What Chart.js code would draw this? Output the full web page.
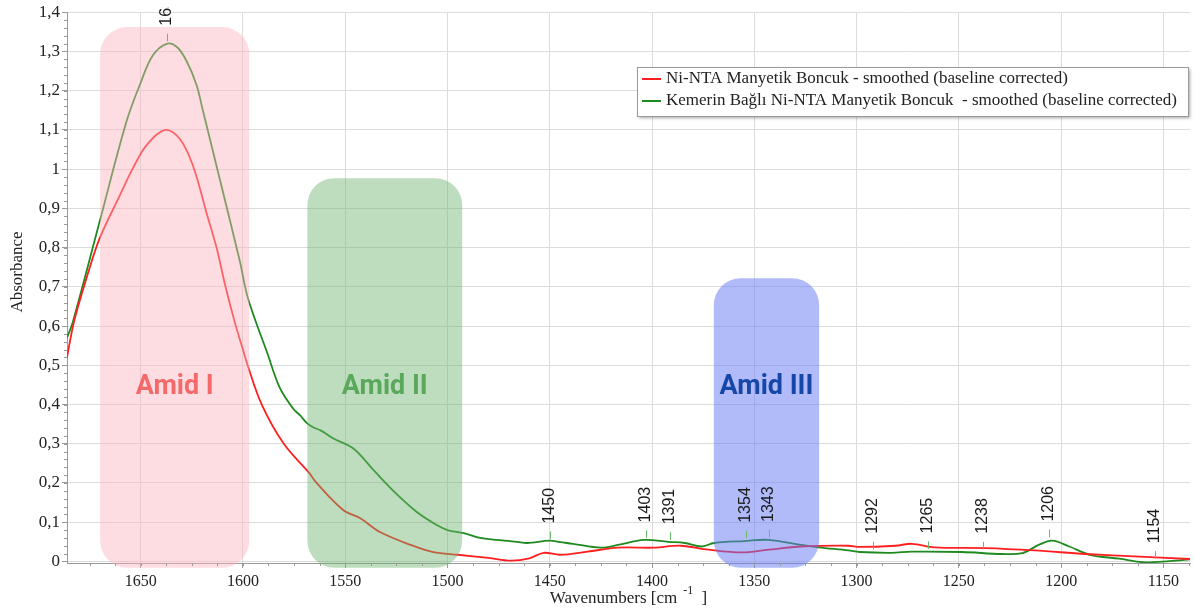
<!DOCTYPE html>
<html lang="tr">
<head>
<meta charset="UTF-8">
<title>FTIR - Amid bantları</title>
<script src="https://cdn.jsdelivr.net/npm/chart.js"></script>
<style>
  body { margin: 0; background: #fff; }
  canvas { display: block; }
</style>
</head>
<body>
<canvas id="myChart" width="1194" height="613"></canvas>
<script>
// spectra (wavenumber cm-1 / absorbance)
const seriesNames = [
    'Ni-NTA Manyetik Boncuk - smoothed (baseline corrected)',
    'Kemerin Bağlı Ni-NTA Manyetik Boncuk  - smoothed (baseline corrected)'
];

const redWaves = [1686, 1682.5, 1676, 1670, 1660, 1654, 1647, 1638, 1631, 1624.5, 1617.6, 1612.9, 1608.5, 1604, 1600,
    1597.7, 1590.8, 1580, 1567.5, 1564, 1551, 1542.6, 1533, 1518, 1507, 1495, 1480, 1469, 1460, 1453, 1445,
    1431.5, 1416.7, 1399, 1386, 1372.5, 1356, 1343, 1327, 1304, 1298.5, 1281, 1273, 1262, 1237, 1213, 1188,
    1161.6, 1136];
const redVals = [0.52, 0.613, 0.73, 0.824, 0.935, 1.0, 1.062, 1.10, 1.078, 1.01, 0.885, 0.8, 0.7, 0.61, 0.54,
    0.5, 0.4, 0.3, 0.225, 0.2, 0.131, 0.11, 0.075, 0.042, 0.024, 0.017, 0.009, 0.002, 0.008, 0.022, 0.017,
    0.025, 0.035, 0.035, 0.04, 0.03, 0.023, 0.03, 0.038, 0.04, 0.037, 0.04, 0.045, 0.036, 0.034, 0.028, 0.019,
    0.012, 0.006];

const greenWaves = [1686, 1683, 1670, 1657, 1650, 1644, 1637, 1632, 1627.5, 1622.7, 1619.6, 1611, 1601.5, 1597.5,
    1588, 1582, 1575.5, 1572, 1568.6, 1565.7, 1562, 1556, 1546, 1536, 1526.5, 1515, 1505, 1500, 1492, 1484,
    1480, 1466, 1461, 1450, 1445, 1438.6, 1425, 1416.7, 1404, 1392, 1384, 1376, 1369.6, 1355, 1343, 1327,
    1318.6, 1304, 1298.5, 1283, 1273, 1248.5, 1229, 1219, 1211, 1204.4, 1196, 1186, 1171.6, 1160, 1147, 1136];
const greenVals = [0.57, 0.613, 0.867, 1.12, 1.22, 1.29, 1.32, 1.31, 1.275, 1.215, 1.15, 0.968, 0.765, 0.67,
    0.53, 0.443, 0.39, 0.372, 0.352, 0.342, 0.334, 0.314, 0.288, 0.232, 0.18, 0.126, 0.092, 0.08, 0.072, 0.06,
    0.057, 0.05, 0.047, 0.053, 0.049, 0.045, 0.035, 0.042, 0.055, 0.05, 0.047, 0.038, 0.047, 0.052, 0.055, 0.042,
    0.036, 0.028, 0.024, 0.022, 0.025, 0.024, 0.019, 0.021, 0.042, 0.053, 0.038, 0.017, 0.007, -0.002, 0.001, 0.006];

const xTicks = [1650, 1600, 1550, 1500, 1450, 1400, 1350, 1300, 1250, 1200, 1150];
const yTicks = [0, 0.1, 0.2, 0.3, 0.4, 0.5, 0.6, 0.7, 0.8, 0.9, 1, 1.1, 1.2, 1.3, 1.4];

// peak picks (label, and absorbance where the little marker starts)
const peakWaves = [1637, 1450, 1403, 1391, 1354, 1343, 1292, 1265, 1238, 1206, 1154];
const peakTops = [1.326, 0.057, 0.060, 0.055, 0.059, 0.061, 0.031, 0.032, 0.031, 0.062, 0.007];

// highlighted bands
const bandNames = ['Amid I', 'Amid II', 'Amid III'];
const bandFrom = [1669.8, 1568.5, 1369.8];
const bandTo = [1596.9, 1492.8, 1318.3];
const bandTop = [1.362, 0.977, 0.722];

const bandFill = ['rgba(250,180,188,0.45)', 'rgba(110,180,110,0.45)', 'rgba(100,120,245,0.5)'];
const bandText = ['#f46a6a', '#5aa85a', '#1646a6'];
const lineColors = ['#ff1f1f', '#1f8a1f'];

function toPoints(xs, ys) {
    return xs.map((x, i) => ({ x: x, y: ys[i] }));
}

function roundBox(ctx, x, y, w, h, r) {
    ctx.beginPath();
    ctx.moveTo(x + r, y);
    ctx.lineTo(x + w - r, y);
    ctx.arcTo(x + w, y, x + w, y + r, r);
    ctx.lineTo(x + w, y + h - r);
    ctx.arcTo(x + w, y + h, x + w - r, y + h, r);
    ctx.lineTo(x + r, y + h);
    ctx.arcTo(x, y + h, x, y + h - r, r);
    ctx.lineTo(x, y + r);
    ctx.arcTo(x, y, x + r, y, r);
    ctx.closePath();
}

const extras = {
    id: 'extras',
    beforeDraw(chart) {
        const ctx = chart.ctx;
        ctx.save();
        ctx.fillStyle = '#fff';
        ctx.fillRect(0, 0, chart.width, chart.height);
        ctx.restore();
    },
    afterDatasetsDraw(chart) {
        const ctx = chart.ctx;
        const xs = chart.scales.x, ys = chart.scales.y;
        const bottom = ys.getPixelForValue(-0.016);

        // band boxes on top of the curves
        bandNames.forEach((name, i) => {
            const x1 = xs.getPixelForValue(bandFrom[i]);
            const x2 = xs.getPixelForValue(bandTo[i]);
            const top = ys.getPixelForValue(bandTop[i]);
            ctx.save();
            ctx.fillStyle = bandFill[i];
            roundBox(ctx, x1, top, x2 - x1, bottom - top, 27);
            ctx.fill();
            ctx.fillStyle = bandText[i];
            ctx.font = 'bold 27px Roboto';
            ctx.textAlign = 'center';
            ctx.textBaseline = 'middle';
            ctx.fillText(name, (x1 + x2) / 2, ys.getPixelForValue(0.444));
            ctx.restore();
        });

        // peak markers
        ctx.save();
        ctx.beginPath();
        ctx.rect(0, 7, chart.width, chart.height);
        ctx.clip();
        peakWaves.forEach((w, i) => {
            const px = Math.round(xs.getPixelForValue(w)) + 0.5;
            const py = ys.getPixelForValue(peakTops[i]);
            ctx.strokeStyle = '#66bb66';
            ctx.lineWidth = 1;
            ctx.beginPath();
            ctx.moveTo(px, py);
            ctx.lineTo(px, py - 7.5);
            ctx.stroke();
            ctx.save();
            ctx.translate(px - 1, py - 15.5);
            ctx.rotate(-Math.PI / 2);
            ctx.fillStyle = '#1a1a1a';
            ctx.font = '16px "Liberation Sans"';
            ctx.textAlign = 'left';
            ctx.textBaseline = 'middle';
            ctx.fillText(String(w), 0, 0);
            ctx.restore();
        });
        ctx.restore();
    },
    afterDraw(chart) {
        const ctx = chart.ctx;
        const xs = chart.scales.x, ys = chart.scales.y;
        const area = chart.chartArea;

        // minor ticks
        ctx.save();
        ctx.strokeStyle = '#9a9a9a';
        ctx.lineWidth = 1;
        for (let v = 0.02; v < 1.4; v += 0.02) {
            const py = Math.round(ys.getPixelForValue(v)) + 0.5;
            ctx.beginPath();
            ctx.moveTo(area.left - 3, py);
            ctx.lineTo(area.left, py);
            ctx.stroke();
        }
        for (let w = 1675; w > 1137; w -= 12.5) {
            const px = Math.round(xs.getPixelForValue(w)) + 0.5;
            ctx.beginPath();
            ctx.moveTo(px, area.bottom);
            ctx.lineTo(px, area.bottom + 3);
            ctx.stroke();
        }
        ctx.restore();

        // axis titles
        ctx.save();
        ctx.fillStyle = '#222';
        ctx.font = '17px "Liberation Serif"';
        ctx.textBaseline = 'alphabetic';
        const main = 'Wavenumbers [cm';
        const mw = ctx.measureText(main).width;
        ctx.font = '12px "Liberation Serif"';
        const sup = '-1';
        const sw = ctx.measureText(sup).width;
        ctx.font = '17px "Liberation Serif"';
        const tail = ' ]';
        const tw = ctx.measureText(tail).width;
        const total = mw + 6 + sw + 4 + tw;
        let tx = (area.left + area.right) / 2 - total / 2;
        const base = 603;
        ctx.textAlign = 'left';
        ctx.fillText(main, tx, base);
        ctx.font = '12px "Liberation Serif"';
        ctx.fillText(sup, tx + mw + 6, base - 9);
        ctx.font = '17px "Liberation Serif"';
        ctx.fillText(tail, tx + mw + 6 + sw + 4, base);

        ctx.translate(18, 272);
        ctx.rotate(-Math.PI / 2);
        ctx.textAlign = 'center';
        ctx.textBaseline = 'middle';
        ctx.font = '17px "Liberation Serif"';
        ctx.fillText('Absorbance', 0, 0);
        ctx.restore();

        // legend box
        ctx.save();
        const lx = 637, ly = 67, lw = 551, lh = 49;
        ctx.shadowColor = 'rgba(0,0,0,0.35)';
        ctx.shadowBlur = 3;
        ctx.shadowOffsetX = 2;
        ctx.shadowOffsetY = 2;
        ctx.fillStyle = '#fff';
        ctx.fillRect(lx, ly, lw, lh);
        ctx.shadowColor = 'transparent';
        ctx.strokeStyle = '#9a9a9a';
        ctx.lineWidth = 1;
        ctx.strokeRect(lx + 0.5, ly + 0.5, lw, lh);
        ctx.font = '17px "Liberation Serif"';
        ctx.textBaseline = 'middle';
        ctx.textAlign = 'left';
        seriesNames.forEach((name, i) => {
            const ry = ly + 12 + i * 22;
            ctx.strokeStyle = lineColors[i];
            ctx.lineWidth = 2;
            ctx.beginPath();
            ctx.moveTo(lx + 5, ry);
            ctx.lineTo(lx + 24, ry);
            ctx.stroke();
            ctx.fillStyle = '#222';
            ctx.fillText(name, lx + 29, ry);
        });
        ctx.restore();
    }
};

const ctx = document.getElementById('myChart').getContext('2d');
const myChart = new Chart(ctx, {
    type: 'scatter',
    data: {
        datasets: [
            {
                label: seriesNames[0],
                data: toPoints(redWaves, redVals),
                showLine: true,
                borderColor: lineColors[0],
                borderWidth: 1.8,
                pointRadius: 0,
                tension: 0.35
            },
            {
                label: seriesNames[1],
                data: toPoints(greenWaves, greenVals),
                showLine: true,
                borderColor: lineColors[1],
                borderWidth: 1.8,
                pointRadius: 0,
                tension: 0.35
            }
        ]
    },
    options: {
        responsive: false,
        animation: false,
        devicePixelRatio: 1,
        layout: { padding: { top: 10, right: 4, left: 0, bottom: 0 } },
        plugins: {
            legend: { display: false },
            tooltip: { enabled: false }
        },
        scales: {
            x: {
                type: 'linear',
                reverse: true,
                min: 1137,
                max: 1686,
                afterBuildTicks: s => { s.ticks = xTicks.map(v => ({ value: v })); },
                afterFit: s => { s.height = 50; },
                ticks: {
                    autoSkip: false,
                    maxRotation: 0,
                    padding: 4,
                    color: '#222',
                    font: { family: 'Liberation Serif', size: 16 },
                    callback: v => String(v)
                },
                grid: { color: '#dcdcdc', tickLength: 5, tickColor: '#9a9a9a' },
                border: { color: '#9a9a9a' }
            },
            y: {
                min: -0.004,
                max: 1.4,
                afterBuildTicks: s => { s.ticks = yTicks.map(v => ({ value: v })); },
                afterFit: s => { s.width = 67; },
                ticks: {
                    padding: 2,
                    color: '#222',
                    font: { family: 'Liberation Serif', size: 17 },
                    callback: v => String(Math.round(v * 10) / 10).replace('.', ',')
                },
                grid: { color: '#dcdcdc', tickLength: 5, tickColor: '#9a9a9a' },
                border: { color: '#9a9a9a' }
            }
        }
    },
    plugins: [extras]
});
</script>
</body>
</html>
